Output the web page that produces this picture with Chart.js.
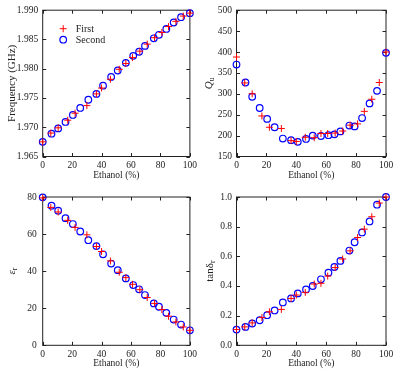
<!DOCTYPE html>
<html>
<head>
<meta charset="utf-8">
<script src="https://cdn.jsdelivr.net/npm/chart.js@4.4.0/dist/chart.umd.min.js"></script>
<style>
  body { margin: 0; background: #fff; }
  #wrap { position: relative; width: 400px; height: 371px; }
  canvas { position: absolute; }
</style>
</head>
<body>
<div id="wrap">
  <canvas id="freq-chart" style="left:0;top:0" width="200" height="185"></canvas>
  <canvas id="q-chart" style="left:200px;top:0" width="200" height="185"></canvas>
  <canvas id="eps-chart" style="left:0;top:185px" width="200" height="186"></canvas>
  <canvas id="tan-chart" style="left:200px;top:185px" width="200" height="186"></canvas>
</div>
<script>
// Ethanol concentration (%) of each measurement
const ethanolFirst = [0, 5.5, 10.5, 17, 22, 30, 36.5, 40, 46, 52, 56.5, 61, 66, 71, 76, 81, 85.5, 90.5, 95.5, 100];
const ethanolSecond = [0, 6, 10.5, 15.5, 20.5, 25.5, 31, 36.5, 41, 46.5, 51, 56.5, 61.5, 65.5, 69.5, 75.5, 79, 84, 89, 94, 100];

// Resonant frequency (GHz)
const freqFirst = [1.9675, 1.9690, 1.9699, 1.9712, 1.9724, 1.9737, 1.9757, 1.9767, 1.9782, 1.9799, 1.9809, 1.9819, 1.9830, 1.9842, 1.9853, 1.9862, 1.9872, 1.9881, 1.9890, 1.9895];
const freqSecond = [1.9675, 1.9689, 1.9698, 1.9709, 1.9721, 1.9733, 1.9747, 1.9757, 1.9771, 1.9786, 1.9797, 1.9810, 1.9822, 1.9829, 1.9839, 1.9852, 1.9858, 1.9868, 1.9879, 1.9888, 1.9895];

// Unloaded Q
const qFirst = [388, 326, 300, 247, 220, 217, 188, 186, 196, 195, 205, 205, 206, 211, 225, 228, 258, 287, 327, 400];
const qSecond = [370, 327, 293, 266, 240, 220, 193, 189, 185, 192, 200, 199, 201, 203, 210, 224, 222, 242, 277, 307, 398];

// Relative permittivity
const epsFirst = [79.5, 74.4, 71.9, 67.4, 63.6, 59.6, 53.3, 50.6, 45.5, 39.4, 36.5, 32.9, 30.0, 25.8, 22.6, 19.3, 15.7, 12.6, 9.9, 8.1];
const epsSecond = [79.8, 75.3, 72.6, 68.6, 65.4, 61.4, 56.7, 53.5, 49.1, 44.1, 40.5, 36.1, 32.5, 30.2, 27.1, 22.6, 20.8, 17.5, 13.9, 11.2, 8.1];

// Loss tangent
const tanFirst = [0.106, 0.124, 0.151, 0.187, 0.226, 0.242, 0.316, 0.339, 0.357, 0.413, 0.418, 0.467, 0.524, 0.582, 0.637, 0.727, 0.783, 0.867, 0.959, 1.0];
const tanSecond = [0.106, 0.124, 0.147, 0.169, 0.203, 0.235, 0.289, 0.316, 0.350, 0.377, 0.400, 0.445, 0.490, 0.528, 0.569, 0.639, 0.695, 0.761, 0.835, 0.948, 1.0];

const seriesNames = ['First', 'Second'];
const xTitle = 'Ethanol (%)';

const FONT = '"Liberation Serif", "Times New Roman", serif';
const pts = (xs, ys) => xs.map((x, i) => ({ x: x, y: ys[i] }));

// frame + inward ticks on all four sides
const framePlugin = {
  id: 'frame',
  beforeDatasetsDraw(chart) {
    const ctx = chart.ctx, a = chart.chartArea;
    const len = 3.5;
    ctx.save();
    ctx.strokeStyle = '#222';
    ctx.lineWidth = 1;
    ctx.strokeRect(a.left, a.top, a.right - a.left, a.bottom - a.top);
    ctx.beginPath();
    const xs = chart.scales.x, ys = chart.scales.y;
    xs.ticks.forEach(t => {
      const px = Math.round(xs.getPixelForValue(t.value)) + 0.5;
      ctx.moveTo(px, a.bottom); ctx.lineTo(px, a.bottom - len);
      ctx.moveTo(px, a.top); ctx.lineTo(px, a.top + len);
    });
    ys.ticks.forEach(t => {
      const py = Math.round(ys.getPixelForValue(t.value)) + 0.5;
      ctx.moveTo(a.left, py); ctx.lineTo(a.left + len, py);
      ctx.moveTo(a.right, py); ctx.lineTo(a.right - len, py);
    });
    ctx.stroke();
    ctx.restore();
  }
};

// y-axis title with italic / subscript parts, drawn rotated
const yTitlePlugin = {
  id: 'ytitle',
  afterDraw(chart, args, opts) {
    if (!opts.parts) return;
    const ctx = chart.ctx, a = chart.chartArea;
    ctx.save();
    ctx.translate(opts.x, (a.top + a.bottom) / 2 + (opts.dy || 0));
    ctx.rotate(-Math.PI / 2);
    ctx.fillStyle = '#222';
    ctx.textBaseline = 'middle';
    const size = opts.size || 11;
    let total = 0;
    const fonts = opts.parts.map(p => {
      const s = p.sub ? size * 0.7 : size;
      const f = (p.italic ? 'italic ' : '') + s + 'px ' + FONT;
      ctx.font = f;
      const w = ctx.measureText(p.text).width;
      total += w;
      return { f, w, p };
    });
    let x = -total / 2;
    fonts.forEach(({ f, w, p }) => {
      ctx.font = f;
      ctx.fillText(p.text, x, p.sub ? size * 0.3 : 0);
      x += w;
    });
    ctx.restore();
  }
};

// legend drawn inside the plot area
const innerLegendPlugin = {
  id: 'innerLegend',
  afterDatasetsDraw(chart, args, opts) {
    if (!opts.show) return;
    const ctx = chart.ctx, a = chart.chartArea;
    ctx.save();
    chart.data.datasets.forEach((ds, i) => {
      const px = a.left + 20.5, py = a.top + 18.5 + i * 11;
      ctx.strokeStyle = ds.borderColor;
      ctx.fillStyle = 'rgba(0,0,0,0)';
      ctx.lineWidth = ds.borderWidth;
      Chart.helpers.drawPoint(ctx, { pointStyle: ds.pointStyle, radius: ds.pointRadius, borderWidth: ds.borderWidth }, px, py);
      ctx.fillStyle = '#222';
      ctx.font = '10px ' + FONT;
      ctx.textBaseline = 'middle';
      ctx.fillText(ds.label, px + 12.5, py + 0.5);
    });
    ctx.restore();
  }
};

function makeChart(id, yFirst, ySecond, yOpts, box, titleParts, titleX, legend) {
  const ctx = document.getElementById(id).getContext('2d');
  return new Chart(ctx, {
    type: 'scatter',
    data: {
      datasets: [{
        label: seriesNames[0],
        data: pts(ethanolFirst, yFirst),
        pointStyle: 'cross',
        pointRadius: 3.5,
        borderWidth: 1,
        borderColor: '#ff0000',
        backgroundColor: '#ff0000',
        clip: false
      }, {
        label: seriesNames[1],
        data: pts(ethanolSecond, ySecond),
        pointStyle: 'circle',
        pointRadius: 3.3,
        borderWidth: 1.2,
        borderColor: '#0000ff',
        backgroundColor: 'rgba(0,0,0,0)',
        clip: false
      }]
    },
    options: {
      responsive: false,
      animation: false,
      events: [],
      layout: { padding: { top: box.top, right: box.right, left: 0, bottom: 0 } },
      scales: {
        x: {
          type: 'linear', min: 0, max: 100,
          grid: { display: false, drawTicks: false },
          border: { display: false },
          ticks: { stepSize: 20, padding: 3, color: '#222', font: { family: FONT, size: 9.5 } },
          title: { display: true, text: xTitle, color: '#222', font: { family: FONT, size: 9.5 }, padding: { top: 0, bottom: box.titlePad } },
          afterFit: s => { s.height = box.xh; }
        },
        y: {
          type: 'linear', min: yOpts.min, max: yOpts.max,
          grid: { display: false, drawTicks: false },
          border: { display: false },
          ticks: { stepSize: yOpts.step, padding: yOpts.pad, color: '#222', font: { family: FONT, size: 9.5 },
                   callback: v => v.toFixed(yOpts.dec) },
          afterFit: s => { s.width = box.yw; }
        }
      },
      plugins: {
        legend: { display: false },
        tooltip: { enabled: false },
        ytitle: { parts: titleParts, x: titleX, size: 11 },
        innerLegend: { show: legend }
      }
    },
    plugins: [framePlugin, yTitlePlugin, innerLegendPlugin]
  });
}

makeChart('freq-chart', freqFirst, freqSecond,
  { min: 1.965, max: 1.990, step: 0.005, dec: 3, pad: 4.5 },
  { top: 7.7, right: 7.3, yw: 42.7, xh: 28.5, titlePad: 4 },
  [{ text: 'Frequency (GHz)' }], 12, true);

makeChart('q-chart', qFirst, qSecond,
  { min: 150, max: 500, step: 50, dec: 0, pad: 4.5 },
  { top: 7.7, right: 14, yw: 36.5, xh: 28.5, titlePad: 4 },
  [{ text: 'Q', italic: true }, { text: 'u', sub: true }], 9, false);

makeChart('eps-chart', epsFirst, epsSecond,
  { min: 0, max: 80, step: 20, dec: 0, pad: 6 },
  { top: 12, right: 7.3, yw: 42.7, xh: 25.7, titlePad: 2 },
  [{ text: 'ε', italic: true }, { text: 'r', sub: true }], 12, false);

makeChart('tan-chart', tanFirst, tanSecond,
  { min: 0, max: 1, step: 0.2, dec: 1, pad: 4.5 },
  { top: 12, right: 14, yw: 36.5, xh: 25.7, titlePad: 2 },
  [{ text: 'tanδ' }, { text: 'r', sub: true }], 10, false);
</script>
</body>
</html>
